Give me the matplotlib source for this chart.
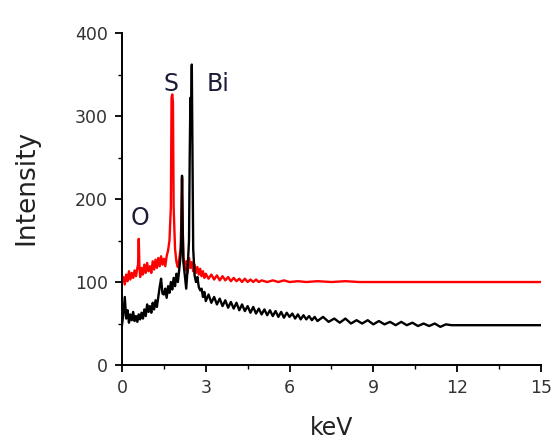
import numpy as np
import matplotlib
matplotlib.use("Agg")
import matplotlib.pyplot as plt
from matplotlib.ticker import MultipleLocator

plt.rcParams['font.family'] = ['DejaVu Sans']

# EDS spectrum: energy (keV) and counts
kev_black = [0.00, 0.05, 0.10, 0.15, 0.20, 0.25, 0.30, 0.35, 0.40, 0.45,
             0.50, 0.55, 0.60, 0.65, 0.70, 0.75, 0.80, 0.85, 0.90, 0.95,
             1.00, 1.05, 1.10, 1.15, 1.20, 1.25, 1.30, 1.35, 1.40, 1.45,
             1.50, 1.55, 1.60, 1.65, 1.70, 1.75, 1.80, 1.85, 1.90, 1.95,
             2.00, 2.05, 2.10, 2.125, 2.15, 2.175, 2.20, 2.25, 2.30, 2.35,
             2.40, 2.425, 2.45, 2.475, 2.50, 2.525, 2.55, 2.60, 2.65, 2.70,
             2.75, 2.80, 2.85, 2.90, 2.95,
             3.0, 3.1, 3.2, 3.3, 3.4, 3.5, 3.6, 3.7, 3.8, 3.9,
             4.0, 4.1, 4.2, 4.3, 4.4, 4.5, 4.6, 4.7, 4.8, 4.9,
             5.0, 5.1, 5.2, 5.3, 5.4, 5.5, 5.6, 5.7, 5.8, 5.9,
             6.0, 6.1, 6.2, 6.3, 6.4, 6.5, 6.6, 6.7, 6.8, 6.9,
             7.0, 7.2, 7.4, 7.6, 7.8, 8.0, 8.2, 8.4, 8.6, 8.8,
             9.0, 9.2, 9.4, 9.6, 9.8, 10.0, 10.2, 10.4, 10.6, 10.8,
             11.0, 11.2, 11.4, 11.6, 11.8, 12.0, 15.0]
cnt_black = [48, 62, 82, 56, 66, 51, 61, 54, 64, 53,
             59, 52, 61, 55, 63, 56, 67, 59, 73, 64,
             71, 63, 75, 67, 78, 70, 82, 94, 104, 86,
             85, 92, 81, 95, 87, 100, 91, 105, 95, 110,
             100, 115, 132, 152, 228, 160, 124, 108, 92, 116,
             150, 250, 322, 296, 362, 250, 140, 108, 100, 106,
             94, 90, 92, 82, 88,
             77, 85, 75, 82, 73, 80, 71, 78, 69, 76,
             68, 75, 66, 73, 65, 71, 63, 70, 62, 68,
             61, 67, 60, 66, 59, 65, 58, 64, 57, 63,
             58, 62, 56, 61, 55, 60, 55, 59, 54, 58,
             53, 58, 52, 56, 51, 56, 50, 54, 50, 54,
             49, 53, 49, 52, 48, 52, 48, 51, 47, 50,
             47, 50, 46, 49, 48, 48, 48]

kev_red = [0.00, 0.05, 0.10, 0.15, 0.20, 0.25, 0.30, 0.35, 0.40, 0.45,
           0.50, 0.55, 0.575, 0.60, 0.625, 0.65, 0.70, 0.75, 0.80, 0.85,
           0.90, 0.95, 1.00, 1.05, 1.10, 1.15, 1.20, 1.25, 1.30, 1.35,
           1.40, 1.45, 1.50, 1.55, 1.60, 1.65, 1.70, 1.75, 1.775, 1.80,
           1.825, 1.85, 1.90, 1.95, 2.00, 2.05, 2.10, 2.125, 2.15, 2.175,
           2.20, 2.25, 2.30, 2.35, 2.40, 2.45, 2.50, 2.55, 2.60, 2.65,
           2.70, 2.75, 2.80, 2.85, 2.90, 2.95,
           3.0, 3.1, 3.2, 3.3, 3.4, 3.5, 3.6, 3.7, 3.8, 3.9,
           4.0, 4.1, 4.2, 4.3, 4.4, 4.5, 4.6, 4.7, 4.8, 4.9,
           5.0, 5.2, 5.4, 5.6, 5.8, 6.0, 6.3, 6.6, 7.0, 7.5,
           8.0, 8.5, 9.0, 10.0, 11.0, 15.0]
cnt_red = [100, 106, 97, 109, 101, 113, 103, 111, 105, 114,
           107, 117, 121, 152, 118, 106, 117, 109, 121, 111,
           123, 113, 119, 111, 125, 115, 127, 117, 129, 119,
           131, 121, 128, 119, 131, 138, 150, 190, 322, 326,
           316, 190, 140, 124, 118, 128, 140, 175, 225, 165,
           130, 114, 125, 111, 129, 117, 124, 113, 121, 111,
           118, 109, 116, 107, 113, 105,
           110, 104, 109, 103, 108, 102, 107, 102, 106, 101,
           105, 101, 104, 100, 104, 100, 103, 100, 103, 100,
           102, 100, 102, 100, 102, 100, 101, 100, 101, 100,
           101, 100, 100, 100, 100, 100]

labels = ['O', 'S', 'Bi']
label_pos = [(0.63, 177), (1.77, 338), (3.45, 338)]

fig = plt.figure(figsize=(5.53, 4.43), dpi=100)
ax = fig.add_axes([0.2206, 0.176, 0.7574, 0.7495])

ax.plot(kev_red, cnt_red, color='#ff0000', lw=1.7)
ax.plot(kev_black, cnt_black, color='black', lw=1.7)

for t, (x, y) in zip(labels, label_pos):
    ax.text(x, y, t, fontsize=17, ha='center', va='center', color='#1c1c38')

ax.set_xlim(0, 15)
ax.set_ylim(0, 400)
ax.xaxis.set_major_locator(MultipleLocator(3))
ax.xaxis.set_minor_locator(MultipleLocator(1.5))
ax.yaxis.set_major_locator(MultipleLocator(100))
ax.yaxis.set_minor_locator(MultipleLocator(50))
ax.tick_params(which='major', direction='out', length=5, width=1.3,
               labelsize=12.5, labelcolor='#333333')
ax.tick_params(which='minor', direction='out', length=3, width=1.0)
ax.tick_params(axis='x', pad=5)
ax.tick_params(axis='y', pad=5)

for side in ['top', 'right']:
    ax.spines[side].set_visible(False)
for side in ['left', 'bottom']:
    ax.spines[side].set_linewidth(1.4)

ax.set_xlabel('keV', fontsize=17, color='#222222')
ax.set_ylabel('Intensity', fontsize=19, color='#222222')
ax.xaxis.set_label_coords(0.5, -0.155)
ax.yaxis.set_label_coords(-0.198, 0.536)

fig.savefig('out.png', dpi=100)
